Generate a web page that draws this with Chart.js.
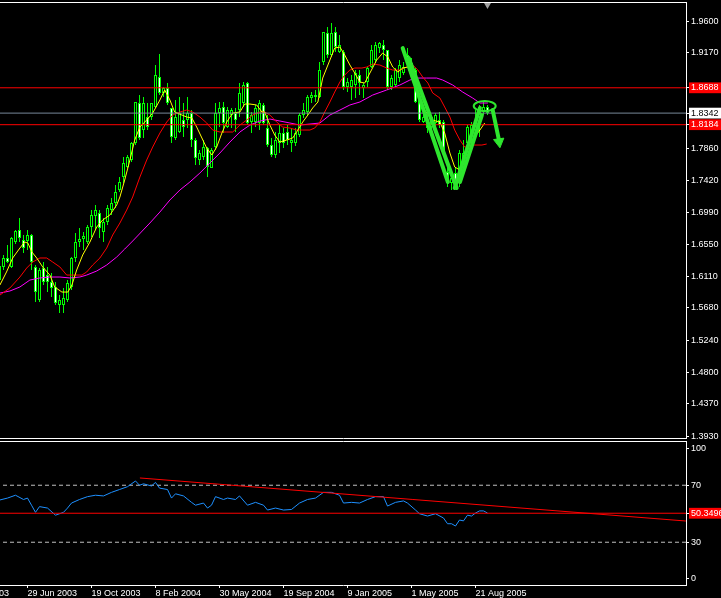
<!DOCTYPE html>
<html><head><meta charset="utf-8">
<script src="https://cdn.jsdelivr.net/npm/chart.js@4.4.0/dist/chart.umd.min.js"></script>
<style>
html,body{margin:0;padding:0;background:#000;width:721px;height:598px;overflow:hidden}
canvas{position:absolute;left:0;display:block}
#c1{top:0}
#c2{top:440px}
</style></head><body>
<canvas id="c1" width="721" height="440"></canvas>
<canvas id="c2" width="721" height="158"></canvas>
<script>
// ---------- DATA ----------
// weekly bars; week index 0 = 29 Jun 2003
const firstBarWeek = -7;
const open  = [1.6062,1.6240,1.6363,1.6240,1.6581,1.6745,1.6609,1.6595,1.6677,1.6240,1.5789,1.6226,1.6130,1.6035,1.5967,1.5721,1.5721,1.5789,1.5967,1.6363,1.6581,1.6622,1.6581,1.6786,1.6936,1.6977,1.6718,1.6854,1.7018,1.7114,1.7292,1.7469,1.7606,1.7701,1.7934,1.8480,1.8111,1.8289,1.8289,1.8425,1.8835,1.8617,1.8685,1.8412,1.8002,1.8084,1.8248,1.8248,1.8343,1.7974,1.7701,1.7742,1.7865,1.7592,1.7879,1.8343,1.8425,1.8152,1.8316,1.8343,1.8384,1.8480,1.8753,1.8220,1.8220,1.8207,1.8453,1.8138,1.7906,1.7770,1.7934,1.8070,1.8084,1.7934,1.7934,1.8043,1.8316,1.8357,1.8548,1.8562,1.8562,1.9040,1.9436,1.9136,1.9450,1.9177,1.9177,1.8699,1.8699,1.8726,1.8862,1.8685,1.8767,1.8972,1.9067,1.9231,1.9272,1.9204,1.8699,1.8726,1.8821,1.8890,1.9136,1.9026,1.8931,1.8521,1.8220,1.8248,1.8152,1.8207,1.8248,1.8220,1.7537,1.7387,1.7524,1.7428,1.7606,1.7934,1.8070,1.8111,1.8289,1.8357,1.8425];
const high  = [1.6335,1.6404,1.6540,1.6650,1.6745,1.6909,1.6677,1.6745,1.6690,1.6267,1.6226,1.6308,1.6240,1.6158,1.6035,1.5857,1.5953,1.6062,1.6376,1.6704,1.6772,1.6718,1.6813,1.7018,1.7087,1.7018,1.6909,1.7087,1.7182,1.7360,1.7469,1.7742,1.7770,1.7947,1.8494,1.8589,1.8562,1.8480,1.8480,1.8999,1.9149,1.8699,1.8753,1.8412,1.8521,1.8562,1.8480,1.8562,1.8384,1.8002,1.7838,1.7974,1.7879,1.7865,1.8480,1.8494,1.8494,1.8425,1.8412,1.8412,1.8753,1.8767,1.8767,1.8357,1.8453,1.8521,1.8480,1.8316,1.8002,1.8084,1.8179,1.8138,1.8179,1.8138,1.8138,1.8343,1.8480,1.8589,1.8630,1.8658,1.9040,1.9450,1.9518,1.9573,1.9518,1.9409,1.9204,1.8821,1.8862,1.8931,1.8931,1.8753,1.8972,1.9272,1.9313,1.9313,1.9341,1.9204,1.8862,1.8958,1.9067,1.9040,1.9231,1.9095,1.8958,1.8562,1.8425,1.8316,1.8316,1.8343,1.8357,1.8248,1.7701,1.7537,1.7606,1.7838,1.7974,1.8179,1.8220,1.8384,1.8453,1.8494,1.8453];
const low   = [1.5980,1.6199,1.6294,1.6226,1.6554,1.6581,1.6431,1.6472,1.6199,1.5762,1.5762,1.5994,1.5898,1.5830,1.5721,1.5611,1.5611,1.5762,1.5926,1.6308,1.6513,1.6472,1.6554,1.6650,1.6745,1.6636,1.6581,1.6813,1.6950,1.7046,1.7264,1.7387,1.7592,1.7674,1.7906,1.7974,1.8002,1.8111,1.8248,1.8412,1.8589,1.8562,1.8453,1.7934,1.7974,1.8070,1.8016,1.8138,1.7879,1.7633,1.7633,1.7701,1.7469,1.7592,1.7838,1.8152,1.8070,1.8138,1.8138,1.8084,1.8289,1.8425,1.8179,1.8070,1.8152,1.8111,1.8179,1.7879,1.7742,1.7729,1.7797,1.7865,1.7906,1.7811,1.7893,1.8016,1.8275,1.8316,1.8480,1.8494,1.8548,1.8999,1.9095,1.9108,1.9177,1.9163,1.8658,1.8630,1.8521,1.8548,1.8589,1.8548,1.8699,1.8958,1.9026,1.9163,1.9067,1.8658,1.8658,1.8699,1.8767,1.8862,1.8958,1.8903,1.8480,1.8220,1.8207,1.8070,1.8084,1.8111,1.8138,1.7770,1.7332,1.7292,1.7319,1.7332,1.7592,1.7838,1.7974,1.8016,1.8016,1.8316,1.8316];
const close = [1.6253,1.6363,1.6308,1.6636,1.6731,1.6636,1.6499,1.6677,1.6308,1.5898,1.6199,1.6035,1.6035,1.5953,1.5748,1.5789,1.5816,1.6021,1.6363,1.6581,1.6622,1.6663,1.6786,1.6950,1.7018,1.6772,1.6854,1.7046,1.7114,1.7264,1.7401,1.7660,1.7742,1.7934,1.8494,1.8002,1.8480,1.8152,1.8480,1.8862,1.8617,1.8685,1.8480,1.8016,1.8289,1.8343,1.8152,1.8343,1.7974,1.7729,1.7797,1.7879,1.7606,1.7838,1.8343,1.8412,1.8207,1.8384,1.8384,1.8248,1.8617,1.8726,1.8207,1.8316,1.8412,1.8480,1.8207,1.7906,1.7770,1.7974,1.8070,1.7934,1.7974,1.7974,1.8070,1.8316,1.8384,1.8562,1.8589,1.8589,1.8931,1.9450,1.9136,1.9436,1.9245,1.9272,1.8699,1.8767,1.8794,1.8890,1.8753,1.8726,1.8958,1.9204,1.9272,1.9300,1.9204,1.8699,1.8821,1.8931,1.8999,1.8972,1.9026,1.8958,1.8494,1.8248,1.8289,1.8138,1.8289,1.8316,1.8179,1.7797,1.7387,1.7455,1.7387,1.7797,1.7797,1.8152,1.8179,1.8179,1.8425,1.8425,1.8342];

// moving averages: [week, price]
const maFast = [[-6.9,1.5994],[-5.25,1.6172],[-3.7,1.6363],[-1.9,1.6499],[-0.7,1.6581],[0.1,1.6567],[1.1,1.6445],[2.3,1.6363],[3.8,1.6240],[5.6,1.6130],[6.8,1.5967],[8.6,1.5898],[10.1,1.5898],[11.1,1.5994],[12.3,1.6199],[13.8,1.6404],[15.6,1.6581],[17.3,1.6786],[18.8,1.6882],[20.6,1.6950],[22.3,1.7087],[23.1,1.7196],[24.3,1.7428],[25.6,1.7701],[26.8,1.7974],[28.1,1.8152],[29.8,1.8248],[31.3,1.8343],[33.1,1.8521],[34.3,1.8658],[35.6,1.8521],[36.8,1.8357],[38.6,1.8316],[39.8,1.8289],[41.1,1.8275],[42.3,1.8152],[43.6,1.8002],[44.8,1.7865],[46.1,1.7770],[47.3,1.7879],[48.6,1.8070],[49.8,1.8220],[51.3,1.8343],[53.1,1.8357],[54.3,1.8466],[55.6,1.8466],[57.3,1.8453],[58.6,1.8357],[59.3,1.8357],[60.6,1.8179],[61.8,1.8043],[63.1,1.7947],[64.8,1.7974],[66.3,1.8002],[67.6,1.8111],[68.8,1.8220],[70.1,1.8316],[71.3,1.8412],[72.6,1.8494],[73.8,1.8821],[75.1,1.8999],[76.8,1.9231],[78.1,1.9245],[79.3,1.9136],[80.6,1.8999],[81.8,1.8890],[83.1,1.8767],[84.3,1.8753],[85.6,1.8890],[87.3,1.9067],[88.8,1.9163],[90.1,1.9108],[91.3,1.8972],[92.6,1.8903],[93.8,1.8958],[95.1,1.8972],[96.3,1.8794],[98.1,1.8562],[99.3,1.8384],[101.1,1.8248],[103.1,1.8220],[104.3,1.8070],[105.6,1.7797],[106.8,1.7606],[108.1,1.7565],[109.3,1.7742],[110.6,1.7934],[111.8,1.8016],[113.1,1.8111],[114.3,1.8207]];
const maMid = [[-6.9,1.5857],[-4.4,1.5953],[-1.9,1.6103],[-0.2,1.6226],[1.3,1.6308],[3.1,1.6363],[4.8,1.6363],[6.3,1.6308],[8.1,1.6240],[9.8,1.6130],[11.3,1.6130],[13.6,1.6130],[14.8,1.6172],[16.3,1.6267],[18.1,1.6363],[19.8,1.6499],[21.3,1.6677],[23.1,1.6841],[24.8,1.7018],[26.3,1.7196],[28.1,1.7469],[29.8,1.7701],[31.3,1.7879],[33.1,1.8070],[34.8,1.8220],[36.3,1.8316],[38.1,1.8357],[39.8,1.8384],[41.3,1.8357],[43.1,1.8289],[44.8,1.8207],[46.3,1.8111],[48.1,1.8084],[49.8,1.8084],[51.3,1.8084],[53.1,1.8179],[54.8,1.8248],[56.3,1.8316],[58.1,1.8357],[59.3,1.8357],[60.6,1.8316],[62.3,1.8220],[63.8,1.8152],[65.6,1.8138],[67.3,1.8111],[68.8,1.8111],[70.6,1.8111],[71.8,1.8138],[73.1,1.8220],[74.3,1.8357],[75.6,1.8494],[76.8,1.8630],[78.1,1.8767],[79.3,1.8862],[80.6,1.8931],[81.8,1.8958],[83.6,1.8958],[84.8,1.8972],[86.3,1.9013],[88.1,1.8999],[89.8,1.8958],[91.3,1.8931],[93.1,1.8931],[94.8,1.8972],[96.3,1.8999],[97.6,1.8931],[98.8,1.8835],[100.1,1.8753],[101.3,1.8617],[103.1,1.8548],[104.3,1.8425],[105.6,1.8289],[106.8,1.8111],[108.1,1.7974],[109.3,1.7879],[110.6,1.7879],[111.8,1.7906],[113.6,1.7906],[114.8,1.7920]];
const maSlow = [[-6.9,1.5884],[-4.4,1.5912],[-1.9,1.5967],[0.6,1.6062],[3.1,1.6090],[5.6,1.6103],[8.1,1.6103],[10.6,1.6090],[13.1,1.6103],[14.8,1.6130],[17.3,1.6185],[19.8,1.6267],[22.3,1.6376],[24.3,1.6485],[26.3,1.6595],[30.6,1.6841],[33.1,1.6991],[35.6,1.7155],[38.1,1.7292],[40.6,1.7401],[43.1,1.7524],[45.6,1.7660],[48.1,1.7797],[50.6,1.7947],[53.1,1.8084],[55.6,1.8179],[58.1,1.8234],[60.6,1.8261],[63.1,1.8234],[65.6,1.8207],[68.1,1.8179],[70.6,1.8193],[73.1,1.8207],[75.6,1.8316],[78.1,1.8384],[80.6,1.8453],[83.1,1.8494],[86.3,1.8589],[89.8,1.8658],[93.1,1.8726],[95.6,1.8794],[97.3,1.8821],[99.8,1.8821],[102.3,1.8821],[103.8,1.8794],[106.3,1.8726],[108.8,1.8630],[111.3,1.8548],[113.1,1.8480],[115.1,1.8480]];

// horizontal price lines
const redLevels = [1.8688, 1.8184];
const bidLevel = 1.8342;
const priceAxisTicks = [1.9600,1.9170,1.8688,1.8342,1.8184,1.7860,1.7420,1.6990,1.6550,1.6110,1.5680,1.5240,1.4800,1.4370,1.3930];

// hand-drawn annotations [week, price]
const drawnStrokes = [
  [[93.8,1.9231],[105.1,1.7401]],
  [[95.3,1.9095],[107.3,1.7319]],
  [[106.8,1.7319],[113.1,1.8412]],
  [[108.1,1.7401],[113.6,1.8316]],
  [[116.3,1.8384],[117.8,1.7990]]
];
const arrowHead = [117.9, 1.7950];
const ellipseCenter = [114.3, 1.8439];
const ellipseRadius = [2.75, 0.0068];
const shiftMarker = [115, 1.9820];

// RSI panel
const rsi = [[-7,59.6],[-5,61],[-3,63],[-1,60],[0,61],[1,56],[2,51],[3,55],[5,54],[7,49],[8,50],[9,51],[10,54],[11,57.5],[13,60],[15,62],[17,63],[19,62.5],[21,65],[23,67],[25,69],[27,73],[28,70],[29,71],[31,69.5],[32,72],[33,68],[35,67],[36,61],[37,64],[39,62.5],[41,58],[42,56],[44,57.5],[45,54],[46,56],[47,62],[49,60],[50,61],[52,60],[53,62.5],[55,56],[57,58],[59,56],[60,52.6],[62,54],[64,52.6],[66,53],[68,57.5],[70,60],[72,61],[74,65],[76,65],[78,63],[79,57.5],[81,58],[83,57.5],[85,60],[87,62],[89,62],[90,55.4],[92,58],[94,59],[95,57.5],[97,52.6],[98,50],[100,48.4],[102,50],[104,47],[105,43],[106,43],[107,41.4],[108,45.6],[109,45],[110,49],[111,48.4],[112,50.5],[113,52],[114,52],[115,50.5]];
const rsiLevels = [30, 70];
const rsiRedLevel = 50.3496;
const rsiTrend = [[28.1,75.1],[164.6,44.9]];
const rsiAxisLabels = ['0','30','70','100'];

// time axis
const tickWeeks = [-16,0,16,32,48,64,80,96,112];
const tickLabels = ['9 Mar 2003','29 Jun 2003','19 Oct 2003','8 Feb 2004','30 May 2004','19 Sep 2004','9 Jan 2005','1 May 2005','21 Aug 2005'];

// ---------- STYLE / LAYOUT ----------
const X_MIN = -6.875, X_MAX = 164.625;
const P_MIN = 1.3904, P_MAX = 1.9860;
const RSI_MAX = 101.05;
const CANDLE = '#00ff00', ANNOT = '#2ee62e';
Chart.defaults.font.family = "'Liberation Sans', Arial, sans-serif";
Chart.defaults.font.size = 9;
Chart.defaults.color = '#ffffff';

const pts = arr => arr.map(p => ({x: p[0], y: p[1]}));
const span = v => [{x: X_MIN - 1, y: v}, {x: X_MAX + 1, y: v}];
const fixPad = s => { s.paddingLeft = 0; s.paddingRight = 0; s.paddingTop = 0; s.paddingBottom = 0; };
const lineDs = (data, color, width, order, extra) => Object.assign({
  type: 'line', data, borderColor: color, borderWidth: width, pointRadius: 0,
  tension: 0, fill: false, order, xAxisID: 'x', yAxisID: 'y'
}, extra || {});

const weeks = open.map((_, i) => firstBarWeek + i);
const wickData = weeks.map((w, i) => ({x: w, y: [low[i], high[i]]}));
const bodyData = weeks.map((w, i) => ({x: w, y: [open[i], close[i]]}));
const bodyFill = open.map((o, i) => close[i] >= o ? '#000000' : '#ffffff');

const ellipsePlugin = {
  id: 'ellipseMark',
  afterDatasetsDraw(chart) {
    const {ctx, scales: {x, y}} = chart;
    const cx = x.getPixelForValue(ellipseCenter[0]);
    const cy = y.getPixelForValue(ellipseCenter[1]);
    const rx = Math.abs(x.getPixelForValue(ellipseCenter[0] + ellipseRadius[0]) - cx);
    const ry = Math.abs(y.getPixelForValue(ellipseCenter[1] + ellipseRadius[1]) - cy);
    ctx.save();
    ctx.strokeStyle = ANNOT; ctx.lineWidth = 2;
    ctx.beginPath(); ctx.ellipse(cx, cy, rx, ry, 0, 0, Math.PI * 2); ctx.stroke();
    ctx.restore();
  }
};

const hiddenX = (pos) => ({
  type: 'linear', axis: 'x', position: pos, min: X_MIN, max: X_MAX, offset: false,
  ticks: {display: false}, grid: {display: false, drawTicks: false, offset: false},
  border: {display: true, color: '#ffffff', width: 1},
  afterFit(s) { s.height = 0; fixPad(s); }
});

const isRed = v => redLevels.some(r => Math.abs(r - v) < 1e-6);
const isBid = v => Math.abs(v - bidLevel) < 1e-6;

// ---------- MAIN PRICE CHART ----------
const mainDatasets = [];
drawnStrokes.forEach(s => mainDatasets.push(lineDs(pts(s), ANNOT, 4, 0, {borderCapStyle: 'round'})));
mainDatasets.push(lineDs([{x: arrowHead[0], y: arrowHead[1]}], ANNOT, 0, 0, {
  showLine: false, pointRadius: 6, pointStyle: 'triangle', pointRotation: 172,
  pointBackgroundColor: ANNOT, pointBorderColor: ANNOT, pointBorderWidth: 1}));
mainDatasets.push(lineDs([{x: shiftMarker[0], y: shiftMarker[1]}], '#a0a0a0', 0, 0, {
  showLine: false, pointRadius: 4, pointStyle: 'triangle', pointRotation: 180,
  pointBackgroundColor: '#a0a0a0', pointBorderColor: '#a0a0a0', pointBorderWidth: 0}));
redLevels.forEach(v => mainDatasets.push(lineDs(span(v), '#ff0000', 1, 1)));
mainDatasets.push(lineDs(span(bidLevel), '#778899', 1, 1));
mainDatasets.push(lineDs(pts(maFast), '#ffff00', 1, 2));
mainDatasets.push(lineDs(pts(maMid), '#ff0000', 1, 2));
mainDatasets.push(lineDs(pts(maSlow), '#ff00ff', 1, 2));
mainDatasets.push({type: 'bar', data: bodyData, grouped: false, barThickness: 3,
  backgroundColor: bodyFill, borderColor: CANDLE, borderWidth: 1, borderSkipped: false,
  inflateAmount: 0, order: 3, xAxisID: 'x', yAxisID: 'y'});
mainDatasets.push({type: 'bar', data: wickData, grouped: false, barThickness: 1,
  backgroundColor: CANDLE, borderWidth: 0, inflateAmount: 0, order: 4, xAxisID: 'x', yAxisID: 'y'});

new Chart(document.getElementById('c1'), {
  type: 'bar',
  data: {datasets: mainDatasets},
  options: {
    responsive: false, animation: false, events: [],
    layout: {autoPadding: false, padding: {top: 2, bottom: 2, left: 0, right: 0}},
    plugins: {legend: {display: false}, tooltip: {enabled: false}},
    scales: {
      x: hiddenX('bottom'),
      xTop: hiddenX('top'),
      y: {
        type: 'linear', position: 'right', min: P_MIN, max: P_MAX,
        afterBuildTicks(s) { s.ticks = priceAxisTicks.map(v => ({value: v})); },
        afterFit(s) { s.width = 35; fixPad(s); },
        grid: {display: true, drawOnChartArea: false, drawTicks: true, tickLength: 3, color: '#ffffff'},
        border: {display: true, color: '#ffffff'},
        ticks: {
          autoSkip: false, padding: 2,
          callback: v => Number(v).toFixed(4),
          color: c => isBid(c.tick.value) ? '#000000' : '#ffffff',
          showLabelBackdrop: c => isRed(c.tick.value) || isBid(c.tick.value),
          backdropColor: c => isBid(c.tick.value) ? '#ffffff' : '#ff0000',
          backdropPadding: {left: 2, right: 12, top: 0, bottom: 0}
        }
      }
    }
  },
  plugins: [ellipsePlugin]
});

// ---------- RSI PANEL ----------
const rsiTickValues = [4.7, 30, rsiRedLevel, 70, 95.9];
const rsiDatasets = [];
rsiDatasets.push(lineDs(pts(rsiTrend), '#ff0000', 1, 1));
rsiDatasets.push(lineDs(span(rsiRedLevel), '#ff0000', 1, 1));
rsiDatasets.push(lineDs(pts(rsi), '#1e90ff', 1, 2));
rsiLevels.forEach(v => rsiDatasets.push(lineDs(span(v), '#c0c0c0', 1, 3, {borderDash: [4, 3]})));

new Chart(document.getElementById('c2'), {
  type: 'line',
  data: {datasets: rsiDatasets},
  options: {
    responsive: false, animation: false, events: [],
    layout: {autoPadding: false, padding: {top: 1, bottom: 0, left: 0, right: 0}},
    plugins: {legend: {display: false}, tooltip: {enabled: false}},
    scales: {
      x: {
        type: 'linear', axis: 'x', position: 'bottom', min: X_MIN, max: X_MAX, offset: false,
        afterBuildTicks(s) { s.ticks = tickWeeks.map(v => ({value: v})); },
        afterFit(s) { s.height = 13; fixPad(s); },
        grid: {display: true, drawOnChartArea: false, drawTicks: true, tickLength: 3, color: '#ffffff', offset: false},
        border: {display: true, color: '#ffffff'},
        ticks: {autoSkip: false, align: 'start', padding: 0, maxRotation: 0, minRotation: 0,
          callback: (v, i) => tickLabels[i]}
      },
      xTop: hiddenX('top'),
      y: {
        type: 'linear', position: 'right', min: 0, max: RSI_MAX,
        afterBuildTicks(s) { s.ticks = rsiTickValues.map(v => ({value: v})); },
        afterFit(s) { s.width = 35; fixPad(s); },
        grid: {display: true, drawOnChartArea: false, drawTicks: true, tickLength: 3, color: '#ffffff'},
        border: {display: true, color: '#ffffff'},
        ticks: {
          autoSkip: false, padding: 2,
          callback: (v, i) => v === rsiRedLevel ? rsiRedLevel.toFixed(4) : rsiAxisLabels[[0,1,null,2,3][i]],
          color: '#ffffff',
          showLabelBackdrop: c => c.tick.value === rsiRedLevel,
          backdropColor: '#ff0000',
          backdropPadding: {left: 2, right: 12, top: 0, bottom: 0}
        }
      }
    }
  }
});
</script>
</body></html>
